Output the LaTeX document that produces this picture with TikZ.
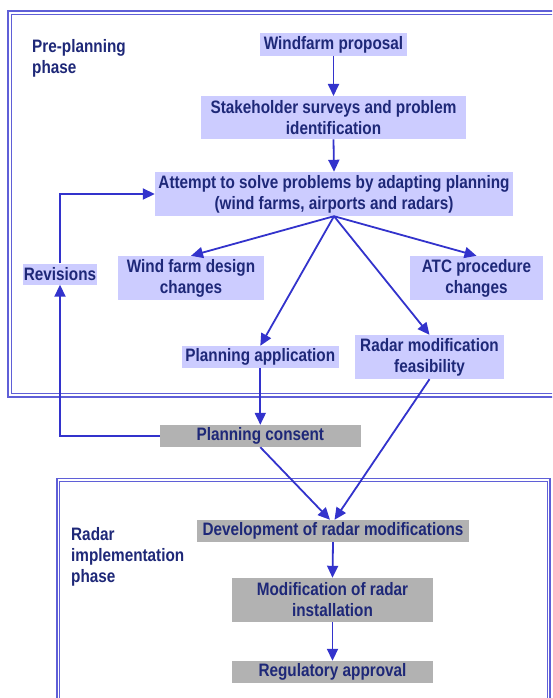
\documentclass[tikz,border=0pt]{standalone}
\usepackage{fontspec}
\setmainfont{Liberation Sans}[FakeStretch=0.85]
\usetikzlibrary{arrows.meta,calc}
\definecolor{txtblue}{RGB}{30,40,120}
\definecolor{lav}{RGB}{204,204,255}
\definecolor{boxgray}{RGB}{178,178,178}
\definecolor{arrblue}{RGB}{51,51,204}
\definecolor{frameblue}{RGB}{95,95,215}
\begin{document}
\begin{tikzpicture}[x=1pt,y=-1pt,
  every node/.style={font=\fontsize{18}{21}\selectfont\bfseries, text=txtblue, inner sep=0pt, align=center},
  lbox/.style={fill=lav},
  gbox/.style={fill=boxgray},
  conn/.style={draw=arrblue, line width=1.8pt, -{Triangle[length=12pt,width=11pt]}},
  frameo/.style={draw=frameblue, line width=1.6pt},
  framei/.style={draw=frameblue, line width=1pt},
  lbl/.style={anchor=north west, align=left}
]
\useasboundingbox (0,0) rectangle (552,698);
\clip (0,0) rectangle (552,698);
\fill[white] (0,0) rectangle (552,698);

% frames
\draw[frameo] (8,11) rectangle (570,397);
\draw[framei] (11.5,14.5) rectangle (570,393.8);
\draw[frameo] (56.7,478.3) rectangle (550,720);
\draw[framei] (59.5,481) rectangle (547.5,720);

% phase labels
\node[lbl] (pre) at (32,39.5) {Pre-planning\\phase};
\node[lbl] (rip) at (71,527.5) {Radar\\implementation\\phase};

% boxes
\node[lbox, minimum width=147, minimum height=22.5] (wp) at (333.5,44.5) {Windfarm proposal};
\node[lbox, minimum width=265, minimum height=43] (ss) at (333.5,117.7) {Stakeholder surveys and problem\\identification};
\node[lbox, minimum width=358, minimum height=44] (at) at (334,194) {Attempt to solve problems by adapting planning\\(wind farms, airports and radars)};
\node[lbox, minimum width=146, minimum height=44] (wfd) at (191,278) {Wind farm design\\changes};
\node[lbox, minimum width=133, minimum height=44] (atc) at (476.5,278) {ATC procedure\\changes};
\node[lbox, minimum width=157, minimum height=22] (pa) at (260.3,357) {Planning application};
\node[lbox, minimum width=149, minimum height=44] (rmf) at (429.5,357) {Radar modification\\feasibility};
\node[lbox, minimum width=73.4, minimum height=21] (rev) at (60,274) {Revisions};
\node[gbox, minimum width=201, minimum height=22] (pc) at (260.3,436) {Planning consent};
\node[gbox, minimum width=272, minimum height=22] (dev) at (333,531) {Development of radar modifications};
\node[gbox, minimum width=201, minimum height=44] (mod) at (332.5,600) {Modification of radar\\installation};
\node[gbox, minimum width=201, minimum height=22] (reg) at (332.5,672) {Regulatory approval};

% connectors
\draw[conn] (wp.south) -- (ss.north);
\draw[conn] (ss.south) -- (at.north);
\draw[conn] (at.south) -- (wfd.north);
\draw[conn] (at.south) -- (atc.north);
\draw[conn] (at.south) -- (pa.north);
\draw[conn] (at.south) -- (rmf.north);
\draw[conn] (pa.south) -- (pc.north);
\draw[conn] (pc.west) -| (rev.south);
\draw[conn] (rev.north) |- (at.west);
\draw[conn] (pc.south) -- ($(dev.north)+(-3,0)$);
\draw[conn] (rmf.south) -- ($(dev.north)+(1.5,0)$);
\draw[conn] (dev.south) -- (mod.north);
\draw[conn] (mod.south) -- (reg.north);
\end{tikzpicture}
\end{document}
